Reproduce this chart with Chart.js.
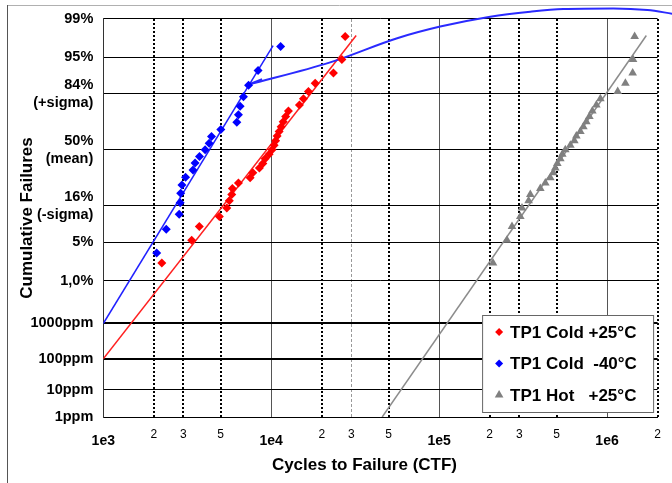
<!doctype html>
<html lang="en">
<head>
<meta charset="utf-8">
<title>Cumulative Failures vs Cycles to Failure</title>
<style>
  * { margin: 0; padding: 0; }
  body { background: #fff; }
  .chartBox { width: 672px; height: 483px; }
</style>
</head>
<body>
<div class="chartBox"><canvas id="myChart" width="672" height="483"></canvas></div>
<script src="https://cdn.jsdelivr.net/npm/chart.js"></script>
<script>
// ---- data ----
// TP1 Cold +25°C (red diamonds)
const cold25Cycles = [2230, 3360, 3730, 4910, 5440, 5630, 5820, 5870, 6380, 7490, 7770, 8500, 8910, 9200, 9720, 10120,
  10410, 10620, 10840, 11150, 11460, 11780, 12190, 12660, 14730, 15560, 16660, 18270, 23480, 26350, 27570];
const cold25Pct = [2.2, 5.4, 8.6, 11.8, 15.0, 18.2, 21.3, 24.5, 27.7, 30.9, 34.1, 37.3, 40.4, 43.6, 46.8, 50.0,
  53.2, 56.4, 59.6, 62.7, 65.9, 69.1, 72.3, 75.5, 78.7, 81.8, 85.0, 88.2, 91.4, 94.6, 97.8];

// TP1 Cold -40°C (blue diamonds)
const cold40Cycles = [2080, 2370, 2830, 2870, 2890, 2940, 3090, 3420, 3520, 3740, 4040, 4270, 4410, 5010, 6240,
  6380, 6530, 6830, 7330, 8350, 11380];
const cold40Pct = [3.3, 7.9, 12.6, 17.3, 22.0, 26.6, 31.3, 36.0, 40.7, 45.3, 50.0, 54.7, 59.3, 64.0, 68.7,
  73.4, 78.0, 82.7, 87.4, 92.1, 96.7];

// TP1 Hot +25°C (grey triangles)
const hot25Cycles = [209300, 253600, 271600, 304300, 311500, 341100, 349100, 400500, 429000, 459300, 478600, 491900,
  505600, 526800, 541500, 564300, 604400, 638600, 656300, 693400, 722500, 752800, 784500, 817500, 863700, 912500,
  1157000, 1286000, 1421000, 1428000, 1460000];
const hot25Pct = [2.2, 5.4, 8.6, 11.8, 15.0, 18.2, 21.3, 24.5, 27.7, 30.9, 34.1, 37.3, 40.4, 43.6, 46.8, 50.0,
  53.2, 56.4, 59.6, 62.7, 65.9, 69.1, 72.3, 75.5, 78.7, 81.8, 85.0, 88.2, 91.4, 94.6, 97.8];

// fitted lines (end points)
const cold25FitCycles = [1000, 32060];
const cold25FitPct = [0.01, 97.9];
const cold40FitCycles = [1000, 10260];
const cold40FitPct = [0.1, 96.8];
const hot25FitCycles = [45810, 1714000];
const hot25FitPct = [0.0001, 97.9];

// stray blue connector drawn over the plot
const strayCycles = [7284, 22440, 56270, 101500, 201600, 349100, 549000, 1090000, 1739000, 2450000];
const strayPct = [87.64, 94.0, 97.64, 98.58, 99.105, 99.297, 99.385, 99.403, 99.354, 99.225];
const stubCycles = [7284, 8827];
const stubPct = [87.64, 89.5];

// axis ticks
const xTickVals = [1e3, 2e3, 3e3, 5e3, 1e4, 2e4, 3e4, 5e4, 1e5, 2e5, 3e5, 5e5, 1e6, 2e6];
const xTickLabels = ['1e3', '2', '3', '5', '1e4', '2', '3', '5', '1e5', '2', '3', '5', '1e6', '2'];
const yTickPcts = [99, 95, 84, 50, 16, 5, 1, 0.1, 0.01, 0.001, 0.0001];
const yTickLabels = ['99%', '95%', ['84%', '(+sigma)'], ['50%', '(mean)'], ['16%', '(-sigma)'], '5%', '1,0%',
  '1000ppm', '100ppm', '10ppm', '1ppm'];

const pts = (xs, ys) => xs.map((x, i) => ({x, y: ys[i]}));
const isDecade = v => [1e3, 1e4, 1e5, 1e6].includes(v);

// inverse normal cdf (Acklam)
function probit(p) {
  const a = [-3.969683028665376e+01, 2.209460984245205e+02, -2.759285104469687e+02, 1.383577518672690e+02, -3.066479806614716e+01, 2.506628277459239e+00];
  const b = [-5.447609879822406e+01, 1.615858368580409e+02, -1.556989798598866e+02, 6.680131188771972e+01, -1.328068155288572e+01];
  const c = [-7.784894002430293e-03, -3.223964580411365e-01, -2.400758277161838e+00, -2.549732539343734e+00, 4.374664141464968e+00, 2.938163982698783e+00];
  const d = [7.784695709041462e-03, 3.224671290700398e-01, 2.445134137142996e+00, 3.754408661907416e+00];
  const pl = 0.02425;
  let q, r;
  if (p < pl) {
    q = Math.sqrt(-2 * Math.log(p));
    return (((((c[0]*q+c[1])*q+c[2])*q+c[3])*q+c[4])*q+c[5]) / ((((d[0]*q+d[1])*q+d[2])*q+d[3])*q+1);
  }
  if (p > 1 - pl) {
    q = Math.sqrt(-2 * Math.log(1 - p));
    return -(((((c[0]*q+c[1])*q+c[2])*q+c[3])*q+c[4])*q+c[5]) / ((((d[0]*q+d[1])*q+d[2])*q+d[3])*q+1);
  }
  q = p - 0.5; r = q * q;
  return (((((a[0]*r+a[1])*r+a[2])*r+a[3])*r+a[4])*r+a[5])*q / (((((b[0]*r+b[1])*r+b[2])*r+b[3])*r+b[4])*r+1);
}

// normal probability scale, values in percent
class ProbabilityScale extends Chart.LinearScale {
  static id = 'probability';
  static defaults = {};
  determineDataLimits() {
    this.min = probit(this.options.min / 100);
    this.max = probit(this.options.max / 100);
  }
  buildTicks() {
    return yTickPcts.map(v => ({value: v}));
  }
  getPixelForValue(value) {
    return super.getPixelForValue(probit(value / 100));
  }
}
Chart.register(ProbabilityScale);

Chart.defaults.font.family = '"Liberation Sans", Arial, sans-serif';
Chart.defaults.color = '#000';

// outer frame
const frame = {
  id: 'frame',
  beforeDraw(chart) {
    const {ctx, width, height} = chart;
    ctx.save();
    ctx.lineWidth = 1;
    ctx.strokeStyle = '#b0b0b0';
    ctx.beginPath();
    ctx.moveTo(7, 5.5);
    ctx.lineTo(width, 5.5);
    ctx.stroke();
    ctx.strokeStyle = '#555';
    ctx.beginPath();
    ctx.moveTo(7.5, 5);
    ctx.lineTo(7.5, height);
    ctx.stroke();
    ctx.restore();
  }
};

// x axis title
const xTitle = {
  id: 'xTitle',
  afterDraw(chart) {
    const {ctx, chartArea: {left, right}} = chart;
    ctx.save();
    ctx.font = 'bold 17px "Liberation Sans", Arial, sans-serif';
    ctx.fillStyle = '#000';
    ctx.textAlign = 'center';
    ctx.textBaseline = 'middle';
    ctx.fillText('Cycles to Failure (CTF)', (left + right) / 2 - 16, 465);
    ctx.restore();
  }
};

// boxed legend inside the plot
const boxLegend = {
  id: 'boxLegend',
  afterDatasetsDraw(chart) {
    const {ctx, chartArea: {right, bottom}} = chart;
    const w = 171, h = 97;
    const x0 = right - 4.5 - w, y0 = bottom - 5 - h;
    ctx.save();
    ctx.fillStyle = '#fff';
    ctx.fillRect(x0, y0, w, h);
    ctx.strokeStyle = '#666';
    ctx.lineWidth = 1;
    ctx.strokeRect(x0 + 0.5, y0 + 0.5, w, h);
    ctx.font = 'bold 17px "Liberation Sans", Arial, sans-serif';
    ctx.textBaseline = 'middle';
    ctx.textAlign = 'left';
    const items = chart.data.datasets.filter(ds => ds.inLegend);
    items.forEach((ds, i) => {
      const yy = y0 + 17 + i * 31.5;
      ctx.fillStyle = ds.backgroundColor;
      Chart.helpers.drawPoint(ctx, {pointStyle: ds.pointStyle, radius: ds.pointStyle === 'triangle' ? 5 : 4, rotation: 0, borderWidth: 0}, x0 + 17, yy);
      ctx.fillStyle = '#000';
      ctx.fillText(ds.label, x0 + 28, yy + 1);
    });
    ctx.restore();
  }
};

const data = {
  datasets: [
    {label: 'TP1 Cold +25°C', inLegend: true, data: pts(cold25Cycles, cold25Pct), pointStyle: 'rectRot',
      pointRadius: 4.5, backgroundColor: '#ff0000', borderColor: '#ff0000', borderWidth: 0},
    {label: 'TP1 Cold  -40°C', inLegend: true, data: pts(cold40Cycles, cold40Pct), pointStyle: 'rectRot',
      pointRadius: 4.5, backgroundColor: '#0000ff', borderColor: '#0000ff', borderWidth: 0},
    {label: 'TP1 Hot   +25°C', inLegend: true, data: pts(hot25Cycles, hot25Pct), pointStyle: 'triangle',
      pointRadius: 5, backgroundColor: '#808080', borderColor: '#808080', borderWidth: 0},
    {label: 'stray', data: pts(strayCycles, strayPct), showLine: true, pointRadius: 0, borderColor: '#2a2aff',
      borderWidth: 2, tension: 0.4, cubicInterpolationMode: 'monotone', clip: false},
    {label: 'stub', data: pts(stubCycles, stubPct), showLine: true, pointRadius: 0, borderColor: '#2a2aff',
      borderWidth: 2, clip: false},
    {label: 'fit cold25', data: pts(cold25FitCycles, cold25FitPct), showLine: true, pointRadius: 0,
      borderColor: '#ff2020', borderWidth: 1.5},
    {label: 'fit cold40', data: pts(cold40FitCycles, cold40FitPct), showLine: true, pointRadius: 0,
      borderColor: '#2020ff', borderWidth: 1.5},
    {label: 'fit hot25', data: pts(hot25FitCycles, hot25FitPct), showLine: true, pointRadius: 0,
      borderColor: '#8c8c8c', borderWidth: 1.5}
  ]
};

const tickVal = ctx => (ctx.tick ? ctx.tick.value : null);

const config = {
  type: 'scatter',
  data,
  options: {
    responsive: false,
    animation: false,
    events: [],
    layout: {padding: {left: 12.8, top: 16, right: 14.4, bottom: 3.8}},
    scales: {
      x: {
        type: 'logarithmic',
        min: 1000,
        max: 2000000,
        bounds: 'data',
        afterBuildTicks: s => { s.ticks = xTickVals.map(v => ({value: v})); },
        afterFit: s => { s.height = 62.2; },
        grid: {
          drawTicks: false,
          color: ctx => {
            const v = tickVal(ctx);
            if (isDecade(v)) return '#555';
            if (v === 3e4) return '#999';
            return '#000';
          },
          lineWidth: ctx => {
            const v = tickVal(ctx);
            return (isDecade(v) || v === 3e4) ? 1 : 2;
          }
        },
        border: {
          color: '#000',
          width: 1,
          dash: ctx => {
            const v = tickVal(ctx);
            if (v === null || isDecade(v)) return [];
            if (v === 3e4) return [3, 2];
            return [2, 2];
          }
        },
        ticks: {
          autoSkip: false,
          maxRotation: 0,
          padding: 10,
          color: '#000',
          font: ctx => isDecade(tickVal(ctx))
            ? {size: 14, weight: 'bold', lineHeight: 2}
            : {size: 12, weight: 'normal', lineHeight: 1.2},
          callback: v => xTickLabels[xTickVals.indexOf(v)]
        }
      },
      y: {
        type: 'probability',
        min: 0.0001,
        max: 99,
        afterFit: s => { s.width = 90.5; },
        grid: {
          drawTicks: false,
          color: '#000',
          lineWidth: ctx => {
            const v = tickVal(ctx);
            return (v === 0.1 || v === 0.01) ? 2 : 1;
          }
        },
        border: {color: '#333', width: 1},
        ticks: {
          autoSkip: false,
          padding: 10,
          color: '#000',
          font: {size: 14.5, weight: 'bold', lineHeight: 1.24},
          callback: v => yTickLabels[yTickPcts.indexOf(v)]
        },
        title: {
          display: true,
          text: 'Cumulative Failures',
          color: '#000',
          font: {size: 17, weight: 'bold'},
          padding: {top: 4, bottom: 4}
        }
      }
    },
    plugins: {
      legend: {display: false},
      tooltip: {enabled: false}
    }
  },
  plugins: [frame, boxLegend, xTitle]
};

const myChart = new Chart(document.getElementById('myChart'), config);
</script>
</body>
</html>
